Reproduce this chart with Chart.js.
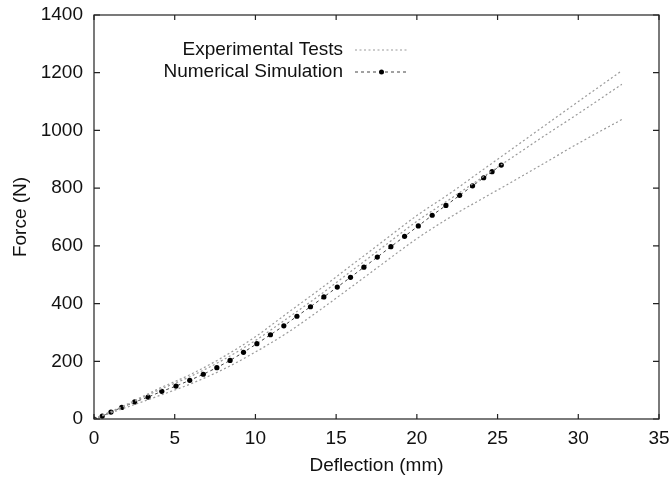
<!DOCTYPE html>
<html lang="en">
<head>
    <meta charset="UTF-8">
    <title>Force vs Deflection</title>
    <script src="https://cdn.jsdelivr.net/npm/chart.js"></script>
    <style>
        html, body { margin: 0; padding: 0; background: #fff; }
        #wrap { width: 671px; height: 481px; }
    </style>
</head>
<body>
    <div id="wrap"><canvas id="forceChart" width="671" height="481"></canvas></div>
    <script>
        // numerical simulation points
        const simX = [0, 0.51, 1.05, 1.72, 2.52, 3.35, 4.2, 5.08, 5.93, 6.77, 7.61, 8.43, 9.26, 10.09, 10.93, 11.76, 12.57, 13.41, 14.24, 15.07, 15.89, 16.72, 17.55, 18.39, 19.24, 20.09, 20.95, 21.8, 22.65, 23.45, 24.14, 24.66, 25.23];
        const simY = [0, 10, 24, 40, 59, 76, 96, 114, 134, 155, 178, 203, 231, 261, 292, 323, 356, 389, 423, 457, 491, 526, 561, 597, 633, 669, 706, 740, 775, 808, 836, 857, 880];

        // experimental tests (three specimens)
        const expX = [0, 2, 4, 6, 8, 10, 12, 14, 16, 18, 20, 22, 24, 26, 28, 30, 32.7];
        const expUpper = [0, 50, 105, 155, 215, 285, 368, 450, 535, 620, 705, 780, 860, 940, 1020, 1100, 1207];
        const expMiddle = [0, 47, 100, 148, 205, 272, 350, 430, 515, 600, 685, 760, 835, 910, 985, 1058, 1160];
        const expLower = [0, 40, 80, 122, 172, 232, 300, 378, 460, 543, 625, 697, 762, 825, 890, 955, 1038];

        const xTicks = [0, 5, 10, 15, 20, 25, 30, 35];
        const yTicks = [0, 200, 400, 600, 800, 1000, 1200, 1400];
        const legendLabels = ['Experimental Tests', 'Numerical Simulation'];

        const FONT = 'Liberation Sans, Arial, sans-serif';
        const FS = 19;
        const expColor = '#9a9a9a';
        const simColor = '#444444';

        function pts(xs, ys) {
            return xs.map((x, i) => ({ x: x, y: ys[i] }));
        }

        function expSet(ys) {
            return {
                data: pts(expX, ys),
                showLine: true,
                borderColor: expColor,
                borderWidth: 1.2,
                borderDash: [2, 2.5],
                pointRadius: 0,
                cubicInterpolationMode: 'monotone',
                fill: false
            };
        }

        // frame, inward ticks and the legend, gnuplot style
        const framePlugin = {
            id: 'frame',
            afterDraw(chart) {
                const ctx = chart.ctx;
                const a = chart.chartArea;
                const xs = chart.scales.x, ys = chart.scales.y;
                ctx.save();
                ctx.strokeStyle = '#222';
                ctx.lineWidth = 1.2;
                ctx.strokeRect(a.left, a.top, a.right - a.left, a.bottom - a.top);
                ctx.beginPath();
                xTicks.forEach(v => {
                    const px = xs.getPixelForValue(v);
                    ctx.moveTo(px, a.bottom); ctx.lineTo(px, a.bottom - 5);
                    ctx.moveTo(px, a.top); ctx.lineTo(px, a.top + 5);
                });
                yTicks.forEach(v => {
                    const py = ys.getPixelForValue(v);
                    ctx.moveTo(a.left, py); ctx.lineTo(a.left + 6, py);
                    ctx.moveTo(a.right, py); ctx.lineTo(a.right - 6, py);
                });
                ctx.stroke();

                // legend
                ctx.font = FS + 'px ' + FONT;
                ctx.fillStyle = '#111';
                ctx.textAlign = 'right';
                ctx.textBaseline = 'middle';
                const tx = 343, sx0 = 355, sx1 = 408;
                const rows = [50, 72];
                ctx.fillText(legendLabels[0], tx, rows[0]);
                ctx.fillText(legendLabels[1], tx, rows[1]);

                ctx.lineWidth = 1.2;
                ctx.strokeStyle = expColor;
                ctx.setLineDash([2, 2.5]);
                ctx.beginPath();
                ctx.moveTo(sx0, rows[0]); ctx.lineTo(sx1, rows[0]);
                ctx.stroke();

                ctx.strokeStyle = simColor;
                ctx.setLineDash([3, 3]);
                ctx.beginPath();
                ctx.moveTo(sx0, rows[1]); ctx.lineTo(sx1, rows[1]);
                ctx.stroke();
                ctx.setLineDash([]);
                ctx.fillStyle = '#000';
                ctx.beginPath();
                ctx.arc((sx0 + sx1) / 2, rows[1], 2.5, 0, Math.PI * 2);
                ctx.fill();
                ctx.restore();
            }
        };

        new Chart(document.getElementById('forceChart'), {
            type: 'scatter',
            data: {
                datasets: [
                    expSet(expUpper),
                    expSet(expMiddle),
                    expSet(expLower),
                    {
                        data: pts(simX, simY),
                        showLine: true,
                        borderColor: simColor,
                        borderWidth: 1,
                        borderDash: [3, 3],
                        pointRadius: 2.6,
                        pointBackgroundColor: '#000',
                        pointBorderWidth: 0,
                        fill: false
                    }
                ]
            },
            plugins: [framePlugin],
            options: {
                responsive: false,
                animation: false,
                layout: { padding: { top: 15, right: 12, left: 0, bottom: 0 } },
                plugins: {
                    legend: { display: false },
                    tooltip: { enabled: false }
                },
                scales: {
                    x: {
                        type: 'linear',
                        min: 0, max: 35,
                        afterBuildTicks(scale) { scale.ticks = xTicks.map(v => ({ value: v })); },
                        afterFit(scale) {
                            scale.height = 62;
                            scale.paddingLeft = 0;
                            scale.paddingRight = 0;
                        },
                        grid: { display: false, drawTicks: false },
                        border: { display: false },
                        ticks: { color: '#111', padding: 8, font: { family: FONT, size: FS }, callback: v => String(v) },
                        title: {
                            display: true,
                            text: 'Deflection (mm)',
                            color: '#111',
                            padding: { top: 3 },
                            font: { family: FONT, size: FS }
                        }
                    },
                    y: {
                        type: 'linear',
                        min: 0, max: 1400,
                        afterBuildTicks(scale) { scale.ticks = yTicks.map(v => ({ value: v })); },
                        afterFit(scale) {
                            scale.width = 94;
                            scale.paddingTop = 0;
                            scale.paddingBottom = 0;
                        },
                        grid: { display: false, drawTicks: false },
                        border: { display: false },
                        ticks: { color: '#111', padding: 11, font: { family: FONT, size: FS }, callback: v => String(v) },
                        title: {
                            display: true,
                            text: 'Force (N)',
                            color: '#111',
                            padding: { top: 9, bottom: 0 },
                            font: { family: FONT, size: FS }
                        }
                    }
                }
            }
        });
    </script>
</body>
</html>
